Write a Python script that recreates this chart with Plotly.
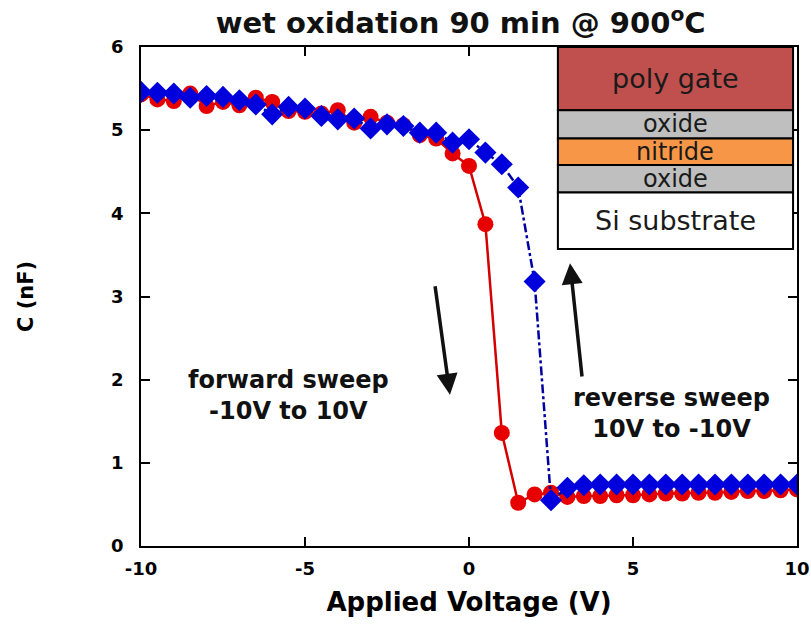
import plotly.graph_objects as go

voltage = [-10 + 0.5 * i for i in range(41)]

forward_c = [5.43, 5.37, 5.35, 5.44, 5.29, 5.34, 5.30, 5.39, 5.34, 5.23,
             5.22, 5.20, 5.24, 5.09, 5.16, 5.09, 5.06, 4.94, 4.90, 4.72,
             4.57, 3.87, 1.36, 0.52, 0.62, 0.64, 0.59, 0.60, 0.60, 0.61,
             0.61, 0.62, 0.63, 0.63, 0.64, 0.64, 0.65, 0.66, 0.66, 0.67, 0.68]

reverse_c = [5.46, 5.45, 5.44, 5.39, 5.41, 5.40, 5.36, 5.31, 5.19, 5.28,
             5.26, 5.17, 5.13, 5.14, 5.02, 5.07, 5.05, 4.97, 4.97, 4.85,
             4.89, 4.73, 4.59, 4.31, 3.18, 0.55, 0.70, 0.73, 0.74, 0.74,
             0.74, 0.74, 0.74, 0.74, 0.74, 0.74, 0.74, 0.74, 0.74, 0.74, 0.74]

x_ticks = [-10, -5, 0, 5, 10]
y_ticks = [0, 1, 2, 3, 4, 5, 6]

layers = ["poly gate", "oxide", "nitride", "oxide", "Si substrate"]
layer_tops = [6.0, 5.24, 4.90, 4.58, 4.25]
layer_bottoms = [5.24, 4.90, 4.58, 4.25, 3.57]
layer_colors = ["#c0504d", "#bfbfbf", "#f79646", "#bfbfbf", "#ffffff"]

fig = go.Figure()
fig.add_trace(go.Scatter(
    x=voltage, y=forward_c, mode="lines+markers", name="forward",
    line=dict(color="#d40000", width=2.5),
    marker=dict(symbol="circle", size=16, color="#e60000"),
))
fig.add_trace(go.Scatter(
    x=voltage, y=reverse_c, mode="lines+markers", name="reverse",
    line=dict(color="#0000a0", width=2.5, dash="dashdot"),
    marker=dict(symbol="diamond", size=17, color="#0000dd"),
))

# inset layer stack
box_x0, box_x1 = 2.71, 9.88
for name, top, bot, col in zip(layers, layer_tops, layer_bottoms, layer_colors):
    fig.add_shape(type="rect", x0=box_x0, x1=box_x1, y0=bot, y1=top,
                  fillcolor=col, line=dict(color="black", width=2), layer="above")
    fsize = 27 if (top - bot) > 0.5 else 24
    fig.add_annotation(x=(box_x0 + box_x1) / 2, y=(top + bot) / 2, text=name,
                       showarrow=False,
                       font=dict(family="DejaVu Sans", size=fsize, color="#1a1a1a"))

# arrows
fig.add_annotation(x=-0.58, y=1.82, ax=-1.04, ay=3.14, xref="x", yref="y",
                   axref="x", ayref="y", text="", showarrow=True,
                   arrowhead=2, arrowsize=1.2, arrowwidth=3.5, arrowcolor="#111111")
fig.add_annotation(x=3.08, y=3.40, ax=3.45, ay=2.02, xref="x", yref="y",
                   axref="x", ayref="y", text="", showarrow=True,
                   arrowhead=2, arrowsize=1.2, arrowwidth=3.5, arrowcolor="#111111")

fig.add_annotation(x=-5.49, y=1.81, text="<b>forward sweep<br>-10V to 10V</b>",
                   showarrow=False, align="center",
                   font=dict(family="DejaVu Sans", size=24, color="#111111"))
fig.add_annotation(x=6.16, y=1.59, text="<b>reverse sweep<br>10V to -10V</b>",
                   showarrow=False, align="center",
                   font=dict(family="DejaVu Sans", size=24, color="#111111"))

fig.update_layout(
    width=811, height=629,
    margin=dict(l=141, r=14, t=47, b=83, autoexpand=False),
    paper_bgcolor="white", plot_bgcolor="white",
    showlegend=False,
    title=dict(text="<b>wet oxidation 90 min @ 900<sup>o</sup>C</b>",
               x=0.568, xanchor="center", y=0.963, yanchor="middle",
               font=dict(family="DejaVu Sans", size=29, color="#111111")),
)
fig.update_xaxes(
    range=[-10, 10], tickvals=x_ticks, ticktext=[str(t) for t in x_ticks],
    ticks="inside", ticklen=9, tickwidth=1.5, tickcolor="black",
    showline=True, linecolor="black", linewidth=1.5, mirror="ticks",
    showgrid=False, zeroline=False, ticklabelstandoff=6, automargin=False,
    tickfont=dict(family="DejaVu Sans", size=18, color="black", weight="bold"),
    title=dict(text="<b>Applied Voltage (V)</b>", standoff=14,
               font=dict(family="DejaVu Sans", size=26, color="black")),
)
fig.update_yaxes(
    range=[0, 6], tickvals=y_ticks, ticktext=[str(t) for t in y_ticks],
    ticks="inside", ticklen=9, tickwidth=1.5, tickcolor="black",
    showline=True, linecolor="black", linewidth=1.5, mirror="ticks",
    showgrid=False, zeroline=False, ticklabelstandoff=12, automargin=False,
    tickfont=dict(family="DejaVu Sans", size=18, color="black", weight="bold"),
    title=dict(text="<b>C (nF)</b>", standoff=72,
               font=dict(family="DejaVu Sans", size=21, color="black")),
)

fig.write_html("out.html")
